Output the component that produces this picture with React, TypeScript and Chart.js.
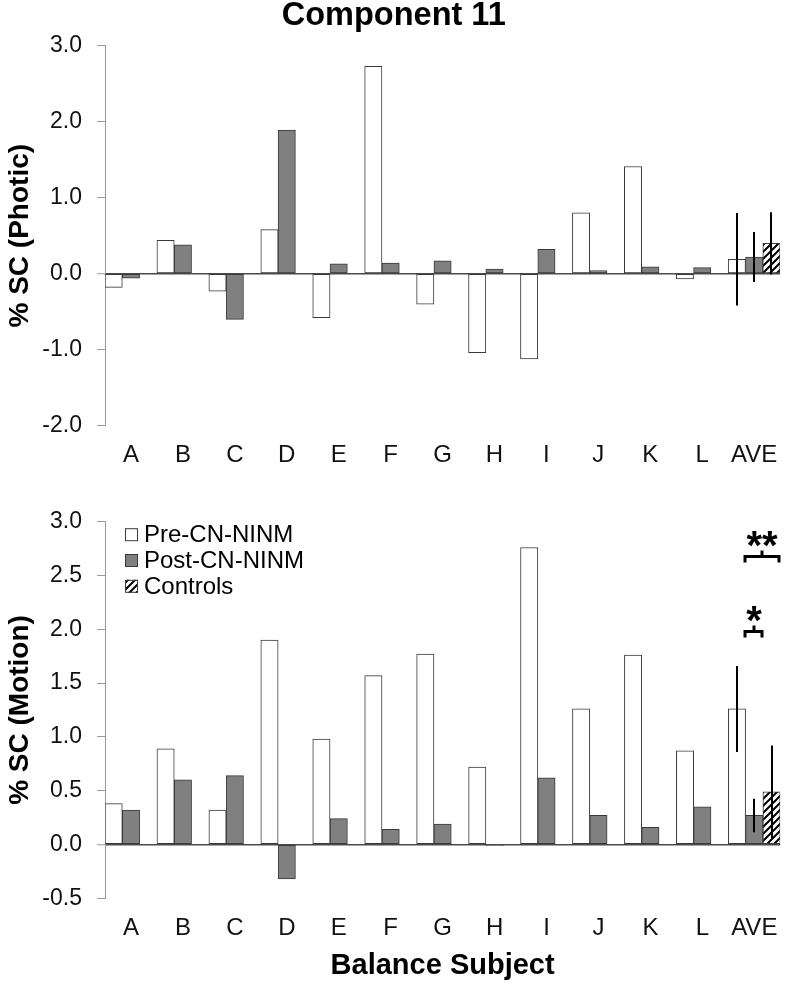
import React, { useEffect, useRef } from 'react';
import { Chart, registerables } from 'chart.js';

Chart.register(...registerables);

// ---------- data ----------
const categories = ['A', 'B', 'C', 'D', 'E', 'F', 'G', 'H', 'I', 'J', 'K', 'L', 'AVE'];
const seriesLabels = ['Pre-CN-NINM', 'Post-CN-NINM', 'Controls'];

const photicPre = [-0.18, 0.44, -0.23, 0.58, -0.58, 2.73, -0.40, -1.04, -1.12, 0.80, 1.41, -0.07, 0.19];
const photicPost = [-0.06, 0.38, -0.60, 1.89, 0.13, 0.14, 0.17, 0.06, 0.32, 0.04, 0.09, 0.08, 0.22];
const photicControls = [null, null, null, null, null, null, null, null, null, null, null, null, 0.40];
const photicErr = [0.61, 0.33, 0.41];

const motionPre = [0.38, 0.89, 0.32, 1.90, 0.98, 1.57, 1.77, 0.72, 2.76, 1.26, 1.76, 0.87, 1.26];
const motionPost = [0.32, 0.60, 0.64, -0.32, 0.24, 0.14, 0.19, -0.01, 0.62, 0.27, 0.16, 0.35, 0.27];
const motionControls = [null, null, null, null, null, null, null, null, null, null, null, null, 0.49];
const motionErr = [0.40, 0.155, 0.43];

const photicAxis = { min: -2, max: 3, step: 1 };
const motionAxis = { min: -0.5, max: 3, step: 0.5 };

const motionSig = [
  { text: '**', from: 0, to: 2, at: 2.68 },
  { text: '*', from: 0, to: 1, at: 1.98 },
];

const titleText = 'Component 11';
const photicYTitle = '% SC (Photic)';
const motionYTitle = '% SC (Motion)';
const xTitleText = 'Balance Subject';

// ---------- styles ----------
const FONT = "'Liberation Sans', Arial, Helvetica, sans-serif";
const BORDER = '#3a3a3a';

function makeHatch(ctx: CanvasRenderingContext2D) {
  const s = 7;
  const pc = document.createElement('canvas');
  pc.width = s;
  pc.height = s;
  const p = pc.getContext('2d')!;
  p.fillStyle = '#ffffff';
  p.fillRect(0, 0, s, s);
  p.strokeStyle = '#000000';
  p.lineWidth = 2;
  p.beginPath();
  p.moveTo(0, s);
  p.lineTo(s, 0);
  p.moveTo(-1, 1);
  p.lineTo(1, -1);
  p.moveTo(s - 1, s + 1);
  p.lineTo(s + 1, s - 1);
  p.stroke();
  return ctx.createPattern(pc, 'repeat');
}

const errorBarPlugin = {
  id: 'errorBars',
  afterDatasetsDraw(chart: any, _args: any, opts: any) {
    const errs: number[] = opts && opts.values;
    if (!errs) return;
    const idx = categories.length - 1;
    const ctx = chart.ctx;
    const y = chart.scales.y;
    ctx.save();
    ctx.strokeStyle = '#000';
    ctx.lineWidth = 2;
    errs.forEach((e, i) => {
      const meta = chart.getDatasetMeta(i);
      const el = meta && meta.data[idx];
      const v = chart.data.datasets[i].data[idx];
      if (!el || v == null) return;
      ctx.beginPath();
      ctx.moveTo(Math.round(el.x), y.getPixelForValue(v + e));
      ctx.lineTo(Math.round(el.x), y.getPixelForValue(v - e));
      ctx.stroke();
    });
    ctx.restore();
  },
};

const innerLegendPlugin = {
  id: 'innerLegend',
  afterDraw(chart: any, _args: any, opts: any) {
    if (!opts || !opts.display) return;
    const ctx = chart.ctx;
    const { left, top } = chart.chartArea;
    const x0 = left + 20;
    ctx.save();
    ctx.font = `24px ${FONT}`;
    ctx.textBaseline = 'middle';
    ctx.textAlign = 'left';
    chart.data.datasets.forEach((ds: any, i: number) => {
      const yc = top + 13 + i * 25.8;
      ctx.fillStyle = ds.backgroundColor;
      ctx.fillRect(x0, yc - 6.5, 13, 13);
      ctx.strokeStyle = BORDER;
      ctx.lineWidth = 1;
      ctx.strokeRect(x0 + 0.5, yc - 6, 12, 12);
      ctx.fillStyle = '#000';
      ctx.fillText(ds.label, x0 + 19, yc + 1);
    });
    ctx.restore();
  },
};

const sigPlugin = {
  id: 'sigMarks',
  afterDraw(chart: any, _args: any, opts: any) {
    const marks = opts && opts.marks;
    if (!marks) return;
    const idx = categories.length - 1;
    const ctx = chart.ctx;
    const y = chart.scales.y;
    ctx.save();
    marks.forEach((m: any) => {
      const a = chart.getDatasetMeta(m.from).data[idx];
      const b = chart.getDatasetMeta(m.to).data[idx];
      const x1 = Math.round(a.x + a.width * 0.45);
      const x2 = Math.round(b.x + b.width * 0.45);
      const yb = Math.round(y.getPixelForValue(m.at)) + 0.5;
      const xm = Math.round((x1 + x2) / 2);
      ctx.strokeStyle = '#000';
      ctx.lineWidth = 3;
      ctx.lineJoin = 'miter';
      ctx.lineCap = 'butt';
      ctx.beginPath();
      ctx.moveTo(x1, yb + 6);
      ctx.lineTo(x1, yb);
      ctx.lineTo(x2, yb);
      ctx.lineTo(x2, yb + 6);
      ctx.moveTo(xm, yb);
      ctx.lineTo(xm, yb - 6);
      ctx.stroke();
      ctx.font = `bold 40px ${FONT}`;
      ctx.fillStyle = '#000';
      ctx.textAlign = 'center';
      ctx.textBaseline = 'alphabetic';
      const mt = ctx.measureText(m.text);
      const asc = mt.actualBoundingBoxAscent;
      const desc = mt.actualBoundingBoxDescent;
      const cy = yb - 18;
      ctx.fillText(m.text, xm, cy + (asc - desc) / 2);
    });
    ctx.restore();
  },
};

function buildConfig(
  ctx: CanvasRenderingContext2D,
  pre: (number | null)[],
  post: (number | null)[],
  ctrl: (number | null)[],
  axis: { min: number; max: number; step: number },
  errs: number[],
  yTitle: string,
  extra: { title?: string; xTitle?: string; legend?: boolean; sig?: any[]; padTop: number; padRight: number; xHeight: number }
): any {
  const hatch = makeHatch(ctx);
  return {
    type: 'bar',
    data: {
      labels: categories,
      datasets: [
        { label: seriesLabels[0], data: pre, backgroundColor: '#ffffff', borderColor: BORDER, borderWidth: 1, borderSkipped: false },
        { label: seriesLabels[1], data: post, backgroundColor: '#808080', borderColor: BORDER, borderWidth: 1, borderSkipped: false },
        { label: seriesLabels[2], data: ctrl, backgroundColor: hatch, borderColor: BORDER, borderWidth: 1, borderSkipped: false },
      ],
    },
    plugins: [errorBarPlugin, innerLegendPlugin, sigPlugin],
    options: {
      responsive: false,
      animation: false,
      devicePixelRatio: 1,
      layout: { padding: { top: extra.padTop, right: extra.padRight, left: 0, bottom: 0 } },
      datasets: { bar: { categoryPercentage: 1, barPercentage: 1 } },
      plugins: {
        legend: { display: false },
        tooltip: { enabled: false },
        title: extra.title
          ? {
              display: true,
              text: extra.title,
              color: '#000',
              font: { family: FONT, size: 32.5, weight: 'bold', lineHeight: 1 },
              padding: { top: 0, bottom: 13.2 },
            }
          : { display: false },
        errorBars: { values: errs },
        innerLegend: { display: !!extra.legend },
        sigMarks: { marks: extra.sig || null },
      },
      scales: {
        x: {
          afterFit: (s: any) => {
            s.height = extra.xHeight;
          },
          grid: { display: false, drawTicks: false },
          border: { display: false },
          ticks: {
            color: '#111',
            font: { family: FONT, size: 24 },
            padding: 15.5,
            maxRotation: 0,
            autoSkip: false,
          },
          title: extra.xTitle
            ? {
                display: true,
                text: extra.xTitle,
                color: '#000',
                font: { family: FONT, size: 29, weight: 'bold' },
                padding: { top: 5.6, bottom: 0 },
              }
            : { display: false },
        },
        y: {
          min: axis.min,
          max: axis.max,
          afterFit: (s: any) => {
            s.width = 105;
          },
          ticks: {
            stepSize: axis.step,
            color: '#111',
            font: { family: FONT, size: 23 },
            padding: 15,
            callback: (v: any) => Number(v).toFixed(1),
          },
          grid: {
            drawOnChartArea: true,
            color: (c: any) => (c.tick && Math.abs(c.tick.value) < 1e-9 ? '#4a4a4a' : 'rgba(0,0,0,0)'),
            lineWidth: (c: any) => (c.tick && Math.abs(c.tick.value) < 1e-9 ? 1.5 : 1),
            tickColor: '#9a9a9a',
            tickLength: 8,
            tickWidth: 1,
          },
          border: { display: true, color: '#9a9a9a', width: 1 },
          title: {
            display: true,
            text: yTitle,
            color: '#000',
            font: { family: FONT, size: 28, weight: 'bold' },
            padding: { top: 3, bottom: 0 },
          },
        },
      },
    },
  };
}

export default function App() {
  const topRef = useRef<HTMLCanvasElement>(null);
  const botRef = useRef<HTMLCanvasElement>(null);

  useEffect(() => {
    const tc = topRef.current!;
    const bc = botRef.current!;
    const c1 = new Chart(
      tc,
      buildConfig(tc.getContext('2d')!, photicPre, photicPost, photicControls, photicAxis, photicErr, photicYTitle, {
        title: titleText,
        padTop: 0,
        padRight: 5.5,
        xHeight: 44.3,
      })
    );
    const c2 = new Chart(
      bc,
      buildConfig(bc.getContext('2d')!, motionPre, motionPost, motionControls, motionAxis, motionErr, motionYTitle, {
        xTitle: xTitleText,
        legend: true,
        sig: motionSig,
        padTop: 51.7,
        padRight: 3,
        xHeight: 84.7,
      })
    );
    return () => {
      c1.destroy();
      c2.destroy();
    };
  }, []);

  return (
    <div style={{ position: 'absolute', left: 0, top: 0, width: 793, height: 983, background: '#ffffff' }}>
      <canvas ref={topRef} width={793} height={470} style={{ position: 'absolute', left: 0, top: 0 }} />
      <canvas ref={botRef} width={793} height={513} style={{ position: 'absolute', left: 0, top: 470 }} />
    </div>
  );
}
